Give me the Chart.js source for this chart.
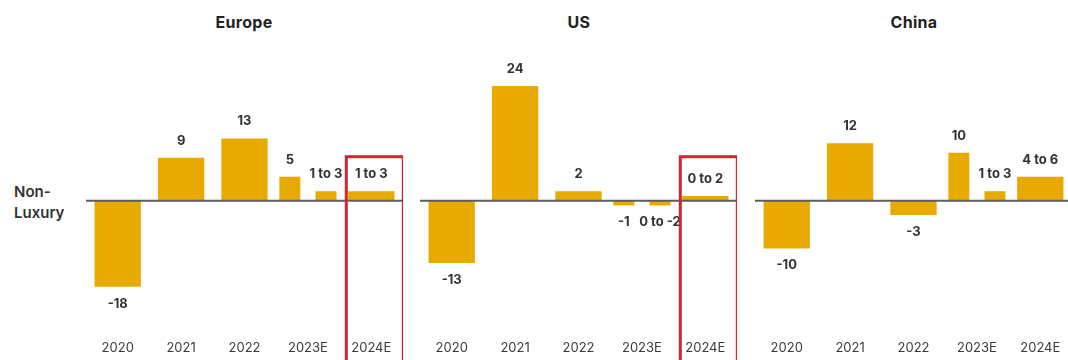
<!DOCTYPE html>
<html>
<head>
<meta charset="utf-8">
<script src="https://cdn.jsdelivr.net/npm/chart.js@4.4.0/dist/chart.umd.min.js"></script>
<style>
  body { margin: 0; width: 1068px; height: 360px; overflow: hidden; background: #fff; position: relative; font-family: Inter, "Open Sans", sans-serif; }
  .panel { position: absolute; top: 0; width: 317px; height: 360px; }
  .title { position: absolute; top: 13px; line-height: 19px; font-size: 16px; font-weight: 700; letter-spacing: 0.3px; color: #222; transform: translateX(-50%); white-space: nowrap; }
  .side { position: absolute; left: 14px; top: 181px; font-size: 15px; font-weight: 600; line-height: 21px; color: #333; }
</style>
</head>
<body>
<div class="side">Non-<br>Luxury</div>
<div class="title" style="left:244px">Europe</div>
<div class="title" style="left:579px">US</div>
<div class="title" style="left:914px">China</div>
<div class="panel" style="left:86px"><canvas id="europeChart"></canvas></div>
<div class="panel" style="left:420px"><canvas id="usChart"></canvas></div>
<div class="panel" style="left:755px"><canvas id="chinaChart"></canvas></div>
<script>
// データ
const years = ["2020", "2021", "2022", "2023E", "2024E"];

// 2023E は2本の細いバー（実績と見通しの中央値）
const europeMain = [-18, 9, 13, null, 2];
const europe2023 = [5, 2];
const europeText = ["-18", "9", "13", "", "1 to 3"];
const europe2023Text = ["5", "1 to 3"];

const usMain = [-13, 24, 2, null, 1];
const us2023 = [-1, -1];
const usText = ["-13", "24", "2", "", "0 to 2"];
const us2023Text = ["-1", "0 to -2"];

const chinaMain = [-10, 12, -3, null, 5];
const china2023 = [10, 2];
const chinaText = ["-10", "12", "-3", "", "4 to 6"];
const china2023Text = ["10", "1 to 3"];

const gold = "#e8a900";

function makePanel(id, main, split, mainText, splitText, highlight) {
  const splitData = (k) => years.map((y) => (y === "2023E" ? split[k] : null));
  const texts = [mainText, years.map((y) => (y === "2023E" ? splitText[0] : "")), years.map((y) => (y === "2023E" ? splitText[1] : ""))];

  // 数値ラベル・ゼロ線・赤枠
  const overlay = {
    id: "overlay",
    afterDatasetsDraw(chart) {
      const ctx = chart.ctx;
      const { left, right } = chart.chartArea;
      const y0 = chart.scales.y.getPixelForValue(0);
      ctx.save();
      ctx.strokeStyle = "#5c5c5c";
      ctx.lineWidth = 2;
      ctx.beginPath();
      ctx.moveTo(left, y0);
      ctx.lineTo(right, y0);
      ctx.stroke();

      ctx.font = "700 13px Inter, sans-serif";
      ctx.fillStyle = "#333";
      ctx.textAlign = "center";
      ctx.textBaseline = "middle";
      chart.data.datasets.forEach((ds, i) => {
        chart.getDatasetMeta(i).data.forEach((bar, j) => {
          const v = ds.data[j];
          if (v === null) return;
          ctx.fillText(texts[i][j], bar.x, v >= 0 ? bar.y - 17 : bar.y + 17);
        });
      });

      if (highlight) {
        const cx = chart.scales.x.getPixelForValue(years.indexOf("2024E"));
        ctx.strokeStyle = "#d8222c";
        ctx.lineWidth = 3;
        ctx.strokeRect(cx - 25, y0 - 44, 57, 260);
      }
      ctx.restore();
    },
  };

  new Chart(document.getElementById(id), {
    type: "bar",
    data: {
      labels: years,
      datasets: [
        { data: main, backgroundColor: gold, categoryPercentage: 0.73, barPercentage: 1, skipNull: true },
        { data: splitData(0), backgroundColor: gold, categoryPercentage: 1.14, barPercentage: 0.58, skipNull: true },
        { data: splitData(1), backgroundColor: gold, categoryPercentage: 1.14, barPercentage: 0.58, skipNull: true },
      ],
    },
    options: {
      responsive: true,
      maintainAspectRatio: false,
      animation: false,
      layout: { padding: { top: 40 } },
      plugins: { legend: { display: false }, tooltip: { enabled: false } },
      scales: {
        x: {
          grid: { display: false },
          border: { display: false },
          ticks: { color: "#3a3a3a", padding: 4, font: { family: "Inter", size: 13 } },
        },
        y: { display: false, min: -26.7, max: 33.6 },
      },
    },
    plugins: [overlay],
  });
}

makePanel("europeChart", europeMain, europe2023, europeText, europe2023Text, true);
makePanel("usChart", usMain, us2023, usText, us2023Text, true);
makePanel("chinaChart", chinaMain, china2023, chinaText, china2023Text, false);
</script>
</body>
</html>
